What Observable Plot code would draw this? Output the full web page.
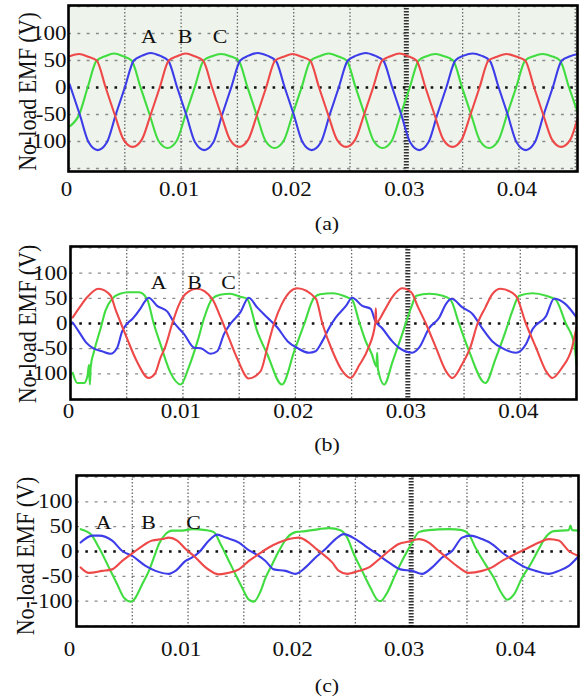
<!DOCTYPE html>
<html>
<head>
<meta charset="utf-8">
<script src="https://cdn.jsdelivr.net/npm/d3@7"></script>
<script src="https://cdn.jsdelivr.net/npm/@observablehq/plot@0.6"></script>
<style>
  body { margin: 0; background: #fff; }
  #wrap { position: relative; width: 587px; height: 696px; overflow: hidden; }
  .panel { position: absolute; left: 0; }
  .cap { position: absolute; width: 60px; margin-left: -30px; text-align: center;
         font: 19px "Liberation Serif", "Times New Roman", serif; line-height: 22px;
         transform: scaleX(1.15); color: #111; }
  svg text { font-family: "Liberation Serif", "Times New Roman", serif; }
</style>
</head>
<body>
<div id="wrap"></div>
<script>
// ---------- shared tick labels ----------
const xTicks = [0, 0.01, 0.02, 0.03, 0.04];
const xTickLabels = ["0", "0.01", "0.02", "0.03", "0.04"];
const yTicks = [100, 50, 0, -50, -100];
const yTickLabels = ["100", "50", "0", "-50", "-100"];
const yTitle = "No-load EMF (V)";
const phaseNames = ["A", "B", "C"];
const gridMs = [5, 10, 15, 20, 25, 35, 40, 45];
const centerMs = [30];
const gridV = [150, 100, 50, -50, -100, -150];

// ---------- panel (a): [time ms, EMF V] ----------
const aBlue = [[0.1,6],[1.0,-50],[1.8,-102],[2.6,-116],[3.4,-102],[4.2,-50],[5.0,0],[5.8,50],[6.55,59],[7.3,64],[8.1,59],[8.85,50],[9.65,0],[10.45,-50],[11.25,-102],[12.05,-116],[12.85,-102],[13.65,-50],[14.45,0],[15.25,50],[16.0,59],[16.8,64],[17.65,59],[18.4,50],[19.2,0],[20.0,-50],[20.8,-102],[21.6,-116],[22.4,-102],[23.2,-50],[24.0,0],[24.8,50],[25.55,59],[26.4,64],[27.2,59],[27.95,50],[28.75,0],[29.55,-50],[30.35,-102],[31.15,-116],[31.95,-102],[32.75,-50],[33.55,0],[34.35,50],[35.1,59],[35.9,63],[36.65,59],[37.4,50],[38.2,0],[39.0,-50],[39.8,-102],[40.6,-116],[41.4,-102],[42.2,-50],[43.0,0],[43.8,50],[44.55,58],[45.2,62]];
const aRed = [[0.1,58],[0.95,62],[1.75,57],[2.5,50],[3.3,0],[4.1,-50],[4.9,-97],[5.7,-110],[6.5,-97],[7.3,-50],[8.1,0],[8.9,50],[9.65,58],[10.4,63],[11.2,58],[11.95,50],[12.75,0],[13.55,-50],[14.35,-97],[15.15,-110],[15.95,-97],[16.75,-50],[17.55,0],[18.35,50],[19.1,57],[19.9,62],[20.7,57],[21.45,50],[22.25,0],[23.05,-50],[23.85,-97],[24.65,-110],[25.45,-97],[26.25,-50],[27.05,0],[27.85,50],[28.6,58],[29.4,63],[30.15,58],[30.9,50],[31.7,0],[32.5,-50],[33.3,-97],[34.1,-110],[34.9,-97],[35.7,-50],[36.5,0],[37.3,50],[38.05,57],[38.9,62],[39.8,57],[40.55,50],[41.35,0],[42.15,-50],[42.95,-97],[43.75,-110],[44.55,-97],[45.2,-58]];
const aGreen = [[0.1,-72],[0.95,-50],[1.7,0],[2.5,50],[3.25,58],[4.05,63],[4.85,58],[5.6,50],[6.4,0],[7.2,-50],[8.0,-99],[8.8,-112],[9.6,-99],[10.4,-50],[11.2,0],[12.0,50],[12.75,58],[13.55,62],[14.35,58],[15.1,50],[15.9,0],[16.7,-50],[17.5,-99],[18.3,-112],[19.1,-99],[19.9,-50],[20.7,0],[21.5,50],[22.3,58],[23.1,63],[23.9,58],[24.7,50],[25.5,0],[26.3,-50],[27.1,-99],[27.9,-112],[28.7,-99],[29.5,-50],[30.3,0],[31.1,50],[31.8,58],[32.6,62],[33.35,58],[34.15,50],[34.95,0],[35.75,-50],[36.55,-99],[37.35,-112],[38.15,-99],[38.95,-50],[39.75,0],[40.55,50],[41.3,58],[42.1,62],[42.9,58],[43.65,50],[44.45,0],[45.2,-45]];
const aLabelMs = [7.14, 10.34, 13.45];
const aLabelV = [93, 93, 93];

// ---------- panel (b) ----------
const bRed = [[0.2,12],[0.9,35],[1.4,50],[2.5,69],[3.55,56],[4.0,28],[4.6,-6],[5.05,-31],[5.9,-75],[6.95,-108],[7.5,-100],[8.0,-68],[8.4,-48],[9.05,0],[9.6,35],[10.2,58],[11.25,69],[12.6,49],[13.35,12],[13.95,-21],[14.8,-68],[15.85,-109],[16.9,-95],[17.5,-48],[18.1,0],[18.8,39],[20.15,70],[21.8,50],[22.4,0],[23.3,-55],[24.2,-95],[24.9,-108],[25.7,-82],[26.5,-48],[27.1,0],[27.15,30],[27.2,2],[27.9,25],[28.6,52],[29.5,70],[30.3,62],[30.9,33],[31.6,0],[32.5,-48],[33.4,-95],[33.95,-108],[34.8,-82],[35.55,-48],[36.2,0],[36.9,32],[37.5,58],[38.25,69],[39.6,55],[40.5,0],[41.4,-48],[42.3,-95],[42.85,-108],[43.7,-88],[44.6,-48],[45.0,-8]];
const bGreen = [[0.2,-98],[0.6,-118],[1.2,-118],[1.5,-105],[1.65,-82],[1.72,-121],[1.8,-85],[2.1,-55],[2.7,-8],[3.1,25],[3.7,49],[4.4,59],[5.2,62],[6.1,62],[6.8,49],[7.4,0],[8.0,-41],[8.9,-98],[9.8,-121],[10.5,-88],[11.3,-35],[11.9,12],[12.6,49],[13.3,57],[14.2,59],[15.1,53],[15.7,49],[16.6,-15],[17.5,-61],[18.8,-121],[19.9,-55],[20.8,0],[21.6,49],[22.2,58],[23.3,60],[24.5,53],[25.05,47],[25.65,5],[26.25,-35],[26.8,-61],[27.2,-85],[27.27,-58],[27.34,-90],[27.9,-121],[28.65,-75],[29.5,-21],[30.3,32],[30.75,55],[31.9,59],[33.1,55],[33.8,47],[34.55,0],[35.45,-55],[36.9,-118],[37.8,-70],[38.7,-15],[39.3,25],[39.9,55],[41.1,60],[42.3,55],[43.15,47],[44.05,0],[44.8,-41],[45.0,-81]];
const bBlue = [[0.2,2],[0.8,-18],[1.4,-38],[2.0,-49],[2.8,-55],[3.55,-60],[4.15,-48],[4.6,-15],[5.05,0],[5.5,9],[6.2,29],[6.65,45],[6.95,51],[7.7,35],[8.6,24],[9.2,2],[10.1,-21],[11.0,-48],[11.6,-49],[12.45,-60],[13.05,-55],[13.65,-21],[14.25,0],[15.1,22],[15.85,51],[16.6,32],[17.5,12],[18.4,-8],[19.3,-35],[20.2,-49],[21.2,-58],[21.8,-55],[22.4,-35],[23.0,-9],[23.6,12],[24.5,35],[25.05,51],[25.95,35],[26.7,29],[27.1,5],[27.7,-9],[28.6,-35],[29.2,-48],[30.4,-58],[31.0,-48],[31.9,-9],[32.8,12],[33.4,39],[33.9,49],[34.85,32],[35.75,19],[36.6,-9],[37.5,-35],[38.4,-49],[39.6,-58],[40.5,-41],[41.1,-11],[42.3,15],[43.0,49],[44.0,39],[45.0,12]];
const bLabelMs = [7.83, 11.03, 14.06];
const bLabelV = [81, 81, 81];

// ---------- panel (c) ----------
const cGreen = [[0.37,45],[1.26,35],[2.01,8],[2.9,-32],[3.65,-66],[4.25,-93],[4.85,-101],[5.15,-97],[5.89,-66],[6.49,-39],[6.94,-12],[7.39,15],[7.98,35],[8.58,42],[9.48,42],[10.37,45],[11.57,43],[12.31,39],[12.91,15],[13.66,-19],[14.25,-46],[14.85,-73],[15.45,-97],[15.9,-101],[16.5,-80],[16.94,-53],[17.54,-26],[18.14,1],[18.89,28],[19.63,39],[20.53,41],[21.73,45],[22.62,47],[23.66,43],[24.26,28],[24.86,-5],[25.6,-39],[26.35,-73],[26.95,-97],[27.25,-100],[27.85,-83],[28.59,-46],[29.34,-12],[30.09,18],[30.68,39],[31.58,43],[33.37,45],[34.57,43],[35.16,35],[35.76,8],[36.66,-26],[37.41,-53],[38.0,-80],[38.6,-97],[39.2,-87],[39.94,-53],[40.69,-26],[41.44,5],[42.03,28],[42.78,41],[44.13,43],[44.28,52],[44.43,43],[45.02,42]];
const cBlue = [[0.37,18],[1.41,32],[2.01,32],[3.2,22],[4.1,1],[4.99,-9],[6.19,-29],[7.09,-39],[8.28,-45],[8.88,-39],[9.78,-19],[10.37,-12],[10.97,-2],[11.87,22],[12.61,34],[13.36,28],[14.56,18],[15.3,5],[16.05,-5],[16.94,-19],[17.69,-36],[18.74,-39],[19.63,-45],[20.53,-32],[21.43,-12],[22.32,5],[23.22,25],[23.96,35],[25.01,25],[25.9,11],[26.95,-5],[27.99,-22],[29.04,-36],[30.09,-39],[30.98,-45],[31.88,-32],[32.77,-12],[33.67,1],[34.57,28],[35.31,32],[36.36,25],[37.25,15],[38.15,-2],[39.04,-16],[40.24,-32],[41.14,-39],[42.33,-45],[43.23,-39],[44.13,-29],[45.02,-9]];
const cRed = [[0.37,-32],[1.11,-43],[2.31,-39],[3.2,-36],[4.1,-19],[4.99,-4],[5.89,11],[6.79,22],[7.68,25],[8.28,28],[9.03,22],[9.78,5],[10.67,-12],[11.57,-32],[12.76,-46],[13.66,-43],[14.56,-36],[15.45,-19],[16.35,-5],[17.24,8],[18.14,18],[19.04,25],[19.93,28],[20.83,18],[21.45,6],[21.9,-2],[22.92,-22],[23.52,-39],[24.27,-45],[25.31,-39],[26.21,-32],[27.1,-16],[28.0,1],[28.89,15],[29.79,20],[30.68,25],[31.58,18],[32.47,1],[33.37,-16],[34.27,-32],[35.16,-43],[36.36,-39],[37.25,-32],[38.15,-19],[39.34,-5],[40.54,8],[41.44,18],[42.33,25],[43.23,22],[44.13,1],[45.02,-9]];
const cLabelMs = [2.43, 6.46, 10.49];
const cLabelV = [58, 58, 58];

// ---------- panel layout ----------
const panels = [
  {id: "a", top: 0, height: 200, mt: 5, mb: 29, ml: 68, mr: 10, xmax: 0.0452, ydom: [-155.6, 151.9],
   bg: "#eef4ec", blue: aBlue, red: aRed, green: aGreen, lt: aLabelMs, lv: aLabelV,
   xpad: 10, ypad: 2, ttl: -41, tdy: 3, xdx: -2, capY: 213},
  {id: "b", top: 236, height: 190, mt: 10, mb: 27, ml: 70, mr: 11, xmax: 0.045, ydom: [-150.8, 152.8],
   bg: "#ffffff", blue: bBlue, red: bRed, green: bGreen, lt: bLabelMs, lv: bLabelV,
   xpad: 4, ypad: 3, ttl: -43, tdy: 1, xdx: -2, capY: 434},
  {id: "c", top: 465, height: 200, mt: 10, mb: 39, ml: 76, mr: 9, xmax: 0.045, ydom: [-151, 153],
   bg: "#ffffff", blue: cBlue, red: cRed, green: cGreen, lt: cLabelMs, lv: cLabelV,
   xpad: 15, ypad: 4, ttl: -51, tdy: 5, xdx: -7, capY: 675}
];

const colors = {red: "#ee4848", green: "#40dc40", blue: "#3c3ce8"};
const T = d => d[0] / 1000;
const V = d => d[1];

// widen glyphs horizontally like the reference scan
function stretchText(svg) {
  svg.querySelectorAll("text").forEach(el => {
    const tr = el.getAttribute("transform");
    if (tr) {
      el.setAttribute("transform", tr + (tr.includes("rotate") ? " scale(1,1.15)" : " scale(1.15,1)"));
    } else {
      const x = +el.getAttribute("x") || 0, y = +el.getAttribute("y") || 0;
      el.setAttribute("transform", `translate(${x},${y}) scale(1.15,1) translate(${-x},${-y})`);
    }
  });
}

const wrap = document.getElementById("wrap");
panels.forEach(p => {
  const chart = Plot.plot({
    width: 587, height: p.height,
    marginTop: p.mt, marginBottom: p.mb, marginLeft: p.ml, marginRight: p.mr,
    x: {domain: [0, p.xmax]},
    y: {domain: p.ydom},
    style: {fontFamily: '"Liberation Serif", "Times New Roman", serif', fontSize: "20px", color: "#111", background: "transparent", overflow: "visible"},
    marks: [
      Plot.frame({fill: p.bg, stroke: null}),
      Plot.ruleY(gridV, {stroke: "#8a8a8a", strokeWidth: 1.3, strokeDasharray: "3,6.3"}),
      Plot.ruleX(gridMs, {x: d => d / 1000, stroke: "#6a6a6a", strokeWidth: 1.3, strokeDasharray: "1.6,1.9"}),
      Plot.ruleX(centerMs, {x: d => d / 1000, stroke: "#333", strokeWidth: 5, strokeDasharray: "1.5,1.5"}),
      Plot.ruleY([0], {stroke: "#111", strokeWidth: 2.6, strokeDasharray: "2.6,6.7"}),
      Plot.line(p.green, {x: T, y: V, stroke: colors.green, strokeWidth: 2.1, curve: "monotone-x"}),
      Plot.line(p.blue, {x: T, y: V, stroke: colors.blue, strokeWidth: 2.1, curve: "monotone-x"}),
      Plot.line(p.red, {x: T, y: V, stroke: colors.red, strokeWidth: 2.1, curve: "monotone-x"}),
      Plot.text(phaseNames, {x: (d, i) => p.lt[i] / 1000, y: (d, i) => p.lv[i], text: d => d, fontSize: 19, fill: "#111"}),
      Plot.axisX({ticks: xTicks, tickFormat: d => xTickLabels[xTicks.indexOf(d)], tickSize: 0, tickPadding: p.xpad, dx: p.xdx, fontSize: 20, label: null}),
      Plot.axisY({ticks: yTicks, tickFormat: d => yTickLabels[yTicks.indexOf(d)], tickSize: 0, tickPadding: p.ypad, fontSize: 20, label: null}),
      Plot.text([yTitle], {frameAnchor: "left", textAnchor: "middle", rotate: -90, dx: p.ttl, dy: p.tdy, fontSize: 22, fill: "#111"}),
      Plot.frame({stroke: "#000", strokeWidth: 2.6})
    ]
  });
  chart.classList.add("panel");
  chart.style.top = p.top + "px";
  wrap.appendChild(chart);
  stretchText(chart);
  const cap = document.createElement("div");
  cap.className = "cap";
  cap.style.left = "327px";
  cap.style.top = p.capY + "px";
  cap.textContent = "(" + p.id + ")";
  wrap.appendChild(cap);
});
</script>
</body>
</html>
